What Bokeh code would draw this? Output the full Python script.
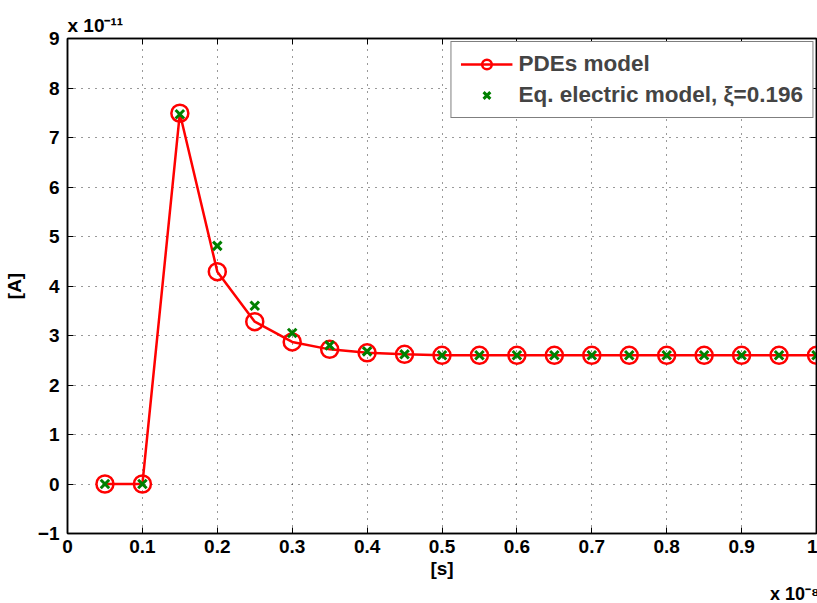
from bokeh.plotting import figure
from bokeh.models import (FixedTicker, LinearAxis, Title, Legend, LegendItem, Range1d)
from bokeh.embed import file_html
from bokeh.resources import INLINE

# data (x in units of 1e-8 s, y in units of 1e-11 A)
t = [0.05, 0.10, 0.15, 0.20, 0.25, 0.30, 0.35, 0.40, 0.45, 0.50,
     0.55, 0.60, 0.65, 0.70, 0.75, 0.80, 0.85, 0.90, 0.95, 1.00]
pde = [0.0, 0.0, 7.49, 4.29, 3.28, 2.87, 2.72, 2.65, 2.62, 2.60,
       2.60, 2.60, 2.60, 2.60, 2.60, 2.60, 2.60, 2.60, 2.60, 2.60]
eq = [0.0, 0.0, 7.47, 4.81, 3.60, 3.05, 2.80, 2.68, 2.62, 2.60,
      2.60, 2.60, 2.60, 2.60, 2.60, 2.60, 2.60, 2.60, 2.60, 2.60]
xticks = [0, 0.1, 0.2, 0.3, 0.4, 0.5, 0.6, 0.7, 0.8, 0.9, 1.0]
xtick_labels = ["0", "0.1", "0.2", "0.3", "0.4", "0.5", "0.6", "0.7", "0.8", "0.9", "1"]
yticks = [-1, 0, 1, 2, 3, 4, 5, 6, 7, 8, 9]
ytick_labels = ["\u22121", "0", "1", "2", "3", "4", "5", "6", "7", "8", "9"]
y_exponent = "x 10\u207b\u00b9\u00b9"
x_exponent = "x 10\u207b\u2078"

FONT = "Liberation Sans"
FS = "19px"

p = figure(width=817, height=603, output_backend="svg", toolbar_location=None,
           x_range=Range1d(0, 1), y_range=Range1d(-1, 9),
           min_border_left=66, min_border_top=38, min_border_bottom=70, min_border_right=1)
p.background_fill_color = "white"
p.border_fill_color = "white"
p.outline_line_color = "black"
p.outline_line_width = 1.5

for ax in (p.xaxis[0], p.yaxis[0]):
    ax.major_label_text_font = FONT
    ax.major_label_text_font_style = "bold"
    ax.major_label_text_font_size = FS
    ax.major_label_text_color = "black"
    ax.axis_label_text_font = FONT
    ax.axis_label_text_font_style = "bold"
    ax.axis_label_text_font_size = FS
    ax.axis_label_text_color = "black"
    ax.major_tick_in = 6
    ax.major_tick_out = 0
    ax.minor_tick_in = 0
    ax.minor_tick_out = 0
    ax.axis_line_color = "black"
    ax.axis_line_width = 1.5
    ax.major_tick_line_color = "black"

p.xaxis.ticker = FixedTicker(ticks=xticks)
p.xaxis.major_label_overrides = {v: s for v, s in zip(xticks, xtick_labels)}
p.yaxis.ticker = FixedTicker(ticks=yticks)
p.yaxis.major_label_overrides = {v: s for v, s in zip(yticks, ytick_labels)}
p.xaxis.axis_label = "[s]"
p.yaxis.axis_label = "[A]"
p.xaxis.axis_label_standoff = 2
p.yaxis.axis_label_standoff = 10
p.xaxis.major_label_standoff = 6
p.yaxis.major_label_standoff = 8

# mirror ticks on top and right (no labels)
top = LinearAxis(ticker=FixedTicker(ticks=xticks),
                 major_label_overrides={v: "" for v in xticks},
                 major_label_standoff=0,
                 major_tick_in=6, major_tick_out=0, minor_tick_in=0, minor_tick_out=0,
                 axis_line_width=1.5, axis_line_color="black")
right = LinearAxis(ticker=FixedTicker(ticks=yticks),
                   major_label_overrides={v: "" for v in yticks},
                   major_label_standoff=0,
                   major_tick_in=6, major_tick_out=0, minor_tick_in=0, minor_tick_out=0,
                   axis_line_width=1.5, axis_line_color="black")
p.add_layout(top, "above")
p.add_layout(right, "right")

# exponent titles
p.add_layout(Title(text=y_exponent, align="left", text_font=FONT, text_font_style="bold",
                   text_font_size=FS, text_color="black", standoff=5,
                   text_line_height=1.0), "above")
p.add_layout(Title(text=x_exponent, align="right", text_font=FONT, text_font_style="bold",
                   text_font_size="18px", text_color="black", standoff=0, offset=-3,
                   text_line_height=1.0), "below")

p.xgrid.ticker = FixedTicker(ticks=xticks)
p.ygrid.ticker = FixedTicker(ticks=yticks)
for g in (p.xgrid[0], p.ygrid[0]):
    g.grid_line_color = "black"
    g.grid_line_dash = "1 6"
    g.grid_line_width = 1
    g.grid_line_alpha = 0.8

red = "#ff0000"
green = "#008000"
ln = p.line(t, pde, line_color=red, line_width=2.5)
cr = p.scatter(t, pde, marker="circle", size=17, fill_color=None, line_color=red, line_width=2.5)
xs = p.scatter(t, eq, marker="x", size=12, line_color=green, line_width=3)

legend = Legend(items=[LegendItem(label="PDEs model", renderers=[ln, cr]),
                       LegendItem(label="Eq. electric model, \u03be=0.196", renderers=[xs])],
                location="top_right", margin=3, padding=9, spacing=5,
                glyph_width=52, glyph_height=24, label_standoff=6,
                label_text_font=FONT, label_text_font_style="bold",
                label_text_font_size="22.5px", border_line_color="black",
                border_line_width=1.5, background_fill_alpha=1.0)
p.add_layout(legend)

open("out.html", "w").write(file_html(p, INLINE))
